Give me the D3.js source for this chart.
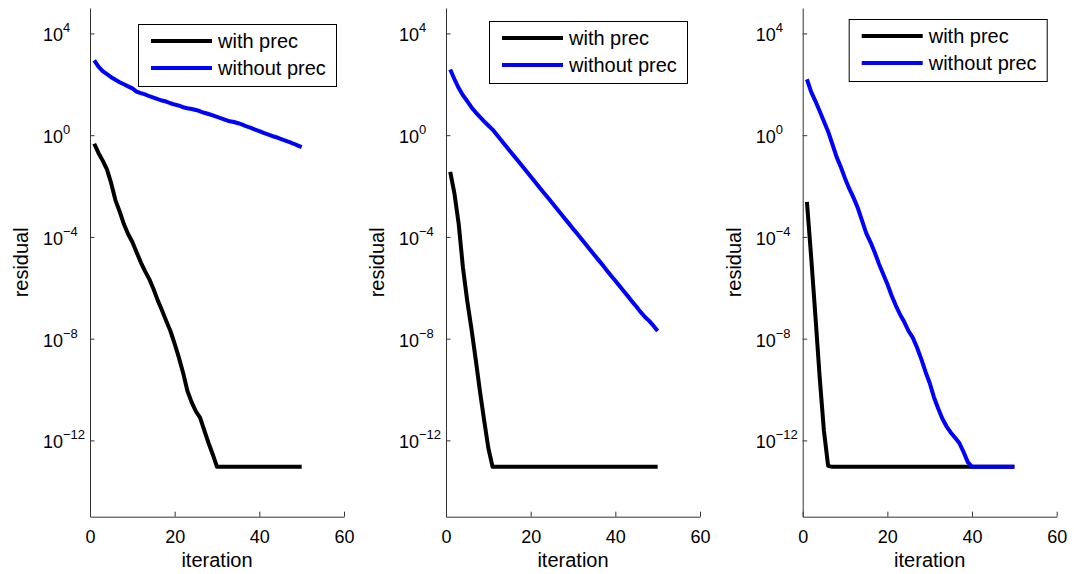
<!DOCTYPE html>
<html>
<head>
<meta charset="utf-8">
<script src="https://cdn.jsdelivr.net/npm/d3@7"></script>
<style>
  body { margin: 0; background: #fff; }
  svg { display: block; font-family: "Liberation Sans", Arial, sans-serif; }
</style>
</head>
<body>
<div id="chart"></div>
<script>
// iteration numbers shared by all panels
var iterations = d3.range(1, 51);

// panel 1 residuals
var withPrec1 = [4.6e-1, 2.0e-1, 1.0e-1, 4.5e-2, 1.3e-2, 2.8e-3, 1.0e-3, 3.2e-4, 1.3e-4, 6.3e-5,
  2.5e-5, 1.0e-5, 4.5e-6, 2.2e-6, 8.9e-7, 3.2e-7, 1.3e-7, 5.0e-8, 2.0e-8, 6.3e-9,
  1.8e-9, 4.5e-10, 8.9e-11, 3.2e-11, 1.4e-11, 7.9e-12, 2.5e-12, 7.9e-13, 2.8e-13, 9.1e-14,
  9.1e-14, 9.1e-14, 9.1e-14, 9.1e-14, 9.1e-14, 9.1e-14, 9.1e-14, 9.1e-14, 9.1e-14, 9.1e-14,
  9.1e-14, 9.1e-14, 9.1e-14, 9.1e-14, 9.1e-14, 9.1e-14, 9.1e-14, 9.1e-14, 9.1e-14, 9.1e-14];
var withoutPrec1 = [870, 500, 330, 250, 190, 150, 120, 100, 83, 69,
  52, 45, 40, 34, 30, 26, 23, 21, 18, 16,
  14.5, 12.6, 11.5, 10.7, 9.8, 8.7, 7.6, 6.8, 6.0, 5.2,
  4.6, 4.0, 3.5, 3.3, 2.95, 2.6, 2.2, 1.95, 1.66, 1.45,
  1.23, 1.07, 0.93, 0.83, 0.72, 0.63, 0.54, 0.47, 0.40, 0.34];

// panel 2 residuals
var withPrec2 = [3.6e-2, 5.0e-3, 3.2e-4, 6.3e-6, 3.2e-7, 2.5e-8, 1.6e-9, 8.9e-11, 6.3e-12, 5.0e-13,
  9.1e-14, 9.1e-14, 9.1e-14, 9.1e-14, 9.1e-14, 9.1e-14, 9.1e-14, 9.1e-14, 9.1e-14, 9.1e-14,
  9.1e-14, 9.1e-14, 9.1e-14, 9.1e-14, 9.1e-14, 9.1e-14, 9.1e-14, 9.1e-14, 9.1e-14, 9.1e-14,
  9.1e-14, 9.1e-14, 9.1e-14, 9.1e-14, 9.1e-14, 9.1e-14, 9.1e-14, 9.1e-14, 9.1e-14, 9.1e-14,
  9.1e-14, 9.1e-14, 9.1e-14, 9.1e-14, 9.1e-14, 9.1e-14, 9.1e-14, 9.1e-14, 9.1e-14, 9.1e-14];
var withoutPrec2 = [380, 158, 71, 37, 22, 12.6, 7.9, 5.2, 3.5, 2.4,
  1.66, 1.03, 0.65, 0.40, 0.25, 0.157, 0.098, 0.061, 0.038, 0.0237,
  0.0148, 9.2e-3, 5.75e-3, 3.6e-3, 2.24e-3, 1.4e-3, 8.7e-4, 5.4e-4, 3.4e-4, 2.1e-4,
  1.32e-4, 8.2e-5, 5.1e-5, 3.2e-5, 2.0e-5, 1.25e-5, 7.8e-6, 4.8e-6, 3.0e-6, 1.9e-6,
  1.17e-6, 7.3e-7, 4.6e-7, 2.85e-7, 1.78e-7, 1.1e-7, 7.1e-8, 5.0e-8, 3.2e-8, 2.0e-8];

// panel 3 residuals
var withPrec3 = [2.4e-3, 1.6e-5, 7.9e-8, 3.2e-10, 2.5e-12, 1.0e-13, 9.1e-14, 9.1e-14, 9.1e-14, 9.1e-14,
  9.1e-14, 9.1e-14, 9.1e-14, 9.1e-14, 9.1e-14, 9.1e-14, 9.1e-14, 9.1e-14, 9.1e-14, 9.1e-14,
  9.1e-14, 9.1e-14, 9.1e-14, 9.1e-14, 9.1e-14, 9.1e-14, 9.1e-14, 9.1e-14, 9.1e-14, 9.1e-14,
  9.1e-14, 9.1e-14, 9.1e-14, 9.1e-14, 9.1e-14, 9.1e-14, 9.1e-14, 9.1e-14, 9.1e-14, 9.1e-14,
  9.1e-14, 9.1e-14, 9.1e-14, 9.1e-14, 9.1e-14, 9.1e-14, 9.1e-14, 9.1e-14, 9.1e-14, 9.1e-14];
var withoutPrec3 = [158, 50, 22, 8.9, 3.5, 1.4, 0.45, 0.14, 0.056, 0.02,
  7.9e-3, 3.5e-3, 1.4e-3, 4.5e-4, 1.4e-4, 6.3e-5, 2.5e-5, 8.9e-6, 3.5e-6, 1.4e-6,
  5.0e-7, 2.0e-7, 8.9e-8, 4.5e-8, 2.0e-8, 1.1e-8, 4.5e-9, 1.6e-9, 5.0e-10, 1.8e-10,
  5.0e-11, 1.8e-11, 7.1e-12, 3.5e-12, 2.0e-12, 1.26e-12, 7.9e-13, 3.5e-13, 1.4e-13, 9.1e-14,
  9.1e-14, 9.1e-14, 9.1e-14, 9.1e-14, 9.1e-14, 9.1e-14, 9.1e-14, 9.1e-14, 9.1e-14, 9.1e-14];

// legend names and tick values
var seriesNames = ["with prec", "without prec"];
var seriesColors = ["#000000", "#0000ff"];
var xTicks = [0, 20, 40, 60];
var yTickExponents = [4, 0, -4, -8, -12];

// set the dimensions of the graph
var width = 1074,
    height = 574,
    plotTop = 8,
    plotBottom = 516.7,
    plotWidth = 254;

// panel layout: left edge of each axes and where its legend sits
var panels = [
  {left: 90,    legend: {x: 48, y: 24}, series: [withPrec1, withoutPrec1]},
  {left: 446,   legend: {x: 43, y: 21}, series: [withPrec2, withoutPrec2]},
  {left: 802.7, legend: {x: 46, y: 19}, series: [withPrec3, withoutPrec3]}
];

var svg = d3.select("#chart")
  .append("svg")
    .attr("width", width)
    .attr("height", height);

var x = d3.scaleLinear()
  .domain([0, 60])
  .range([0, plotWidth]);

var y = d3.scaleLog()
  .domain([1e-15, 1e5])
  .range([plotBottom, plotTop]);

var axisColor = "#333333";

panels.forEach(function(p) {
  var g = svg.append("g")
    .attr("transform", "translate(" + p.left + ",0)");

  // lines
  var line = d3.line()
    .x(function(d, i) { return x(iterations[i]); })
    .y(function(d) { return y(d); });

  p.series.forEach(function(s, k) {
    g.append("path")
      .datum(s)
      .attr("fill", "none")
      .attr("stroke", seriesColors[k])
      .attr("stroke-width", 4)
      .attr("stroke-linejoin", "round")
      .attr("d", line);
  });

  // X axis, ticks pointing inwards
  var xAxis = g.append("g")
    .attr("transform", "translate(0," + plotBottom + ")")
    .call(d3.axisBottom(x).tickValues(xTicks).tickSizeInner(-5).tickSizeOuter(0));
  xAxis.selectAll("text")
    .attr("y", 26.6)
    .attr("dy", null)
    .attr("fill", "#000")
    .style("font-size", "18px")
    .style("font-family", "'Liberation Sans', Arial, sans-serif");

  // Y axis, log scale with 10^n labels
  var yAxis = g.append("g")
    .call(d3.axisLeft(y)
      .tickValues(yTickExponents.map(function(e) { return Math.pow(10, e); }))
      .tickSizeInner(-4.5).tickSizeOuter(0).tickFormat(""));
  yAxis.selectAll(".tick text").remove();
  yAxis.selectAll(".tick").each(function(d) {
    var t = d3.select(this).append("text")
      .attr("x", -47)
      .attr("y", 7.5)
      .attr("text-anchor", "start")
      .attr("fill", "#000")
      .style("font-size", "18px")
      .style("font-family", "'Liberation Sans', Arial, sans-serif");
    t.append("tspan").text("10");
    t.append("tspan")
      .attr("dy", -9)
      .style("font-size", "13px")
      .text(String(Math.round(Math.log10(d))).replace("-", "\u2212"));
  });

  g.selectAll(".domain, .tick line").attr("stroke", axisColor);

  // axis labels
  g.append("text")
    .attr("text-anchor", "middle")
    .attr("x", plotWidth / 2)
    .attr("y", 567)
    .style("font-size", "20px")
    .text("iteration");

  g.append("text")
    .attr("text-anchor", "middle")
    .attr("transform", "translate(-62," + (plotTop + plotBottom) / 2 + ") rotate(-90)")
    .style("font-size", "20px")
    .text("residual");

  // legend
  var lg = g.append("g")
    .attr("transform", "translate(" + p.legend.x + "," + p.legend.y + ")");
  lg.append("rect")
    .attr("x", 0.5)
    .attr("y", 0.5)
    .attr("width", 198)
    .attr("height", 62)
    .attr("fill", "#fff")
    .attr("stroke", "#000")
    .attr("stroke-width", 1);
  seriesNames.forEach(function(name, k) {
    var ly = 17 + k * 27;
    lg.append("line")
      .attr("x1", 13).attr("x2", 74)
      .attr("y1", ly).attr("y2", ly)
      .attr("stroke", seriesColors[k])
      .attr("stroke-width", 4);
    lg.append("text")
      .attr("x", 80)
      .attr("y", ly + 7)
      .style("font-size", "20px")
      .text(name);
  });
});
</script>
</body>
</html>
